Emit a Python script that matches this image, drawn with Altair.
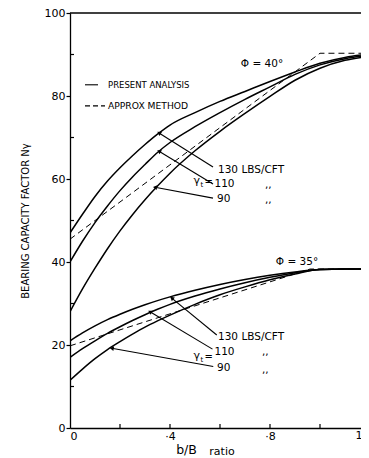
import math
import altair as alt
import pandas as pd

# ---------------- data ----------------
x_curve = [0, 0.05, 0.1, 0.15, 0.2, 0.25, 0.3, 0.35, 0.4, 0.5, 0.6, 0.7, 0.8, 0.9, 1.0, 1.1, 1.2]

phi40_130 = [47, 51.5, 55.8, 59.5, 62.7, 65.6, 68.3, 70.8, 73.0, 76.0, 78.7, 81.1, 83.5, 85.8, 87.9, 89.3, 90.1]
phi40_110 = [40, 45.0, 49.5, 53.5, 57.2, 60.5, 63.5, 66.4, 68.8, 72.6, 76.0, 79.2, 82.2, 85.2, 87.5, 89.0, 89.8]
phi40_90 = [28, 33.5, 38.5, 43.2, 47.5, 51.4, 55.0, 58.3, 61.4, 66.8, 71.5, 75.8, 79.9, 83.8, 86.7, 88.6, 89.6]

phi35_130 = [21, 22.9, 24.6, 26.1, 27.4, 28.6, 29.7, 30.7, 31.6, 33.2, 34.6, 35.8, 36.8, 37.6, 38.2, 38.3, 38.3]
phi35_110 = [17, 19.1, 21.0, 22.8, 24.4, 25.9, 27.3, 28.6, 29.8, 31.8, 33.5, 35.0, 36.3, 37.4, 38.2, 38.3, 38.3]
phi35_90 = [11.5, 14.2, 16.7, 18.9, 20.8, 22.6, 24.3, 25.8, 27.2, 29.8, 32.1, 34.0, 35.7, 37.1, 38.2, 38.3, 38.3]

approx40_x = [0, 1.0, 1.2]
approx40_y = [45.5, 90.3, 90.3]
approx35_x = [0, 0.96, 1.2]
approx35_y = [19.8, 38.3, 38.3]

x_tick_values = [0, 0.2, 0.4, 0.6, 0.8, 1.0]
y_major = [0, 20, 40, 60, 80, 100]
y_minor = [10, 30, 50, 70, 90]

# leader lines: (x_curve_end, y_curve_end, x_label_end, y_label_end)
leader_x1 = [0.356, 0.356, 0.340, 0.407, 0.320, 0.167]
leader_y1 = [71.1, 66.7, 58.0, 31.3, 28.0, 19.2]
leader_x2 = [0.572, 0.572, 0.572, 0.587, 0.570, 0.573]
leader_y2 = [62.9, 58.8, 55.4, 22.4, 19.0, 14.8]

# annotation texts
ann_text = ["130 LBS/CFT", "110", "90", ",,", ",,",
            "130 LBS/CFT", "110", "90", ",,", ",,"]
ann_x = [0.592, 0.578, 0.588, 0.78, 0.78,
         0.592, 0.578, 0.588, 0.768, 0.768]
ann_y = [62.2, 58.8, 55.2, 58.6, 55.0,
         21.9, 18.3, 14.5, 18.4, 14.0]

gamma_text = ["γ", "γ"]
gamma_x = [0.494, 0.494]
gamma_y = [59.5, 17.3]
sub_text = ["t", "t"]
sub_x = [0.522, 0.522]
sub_y = [58.5, 16.3]
eq_text = ["=", "="]
eq_x = [0.538, 0.538]
eq_y = [59.2, 17.0]

phi_text = ["Φ = 40°", "Φ = 35°"]
phi_x = [0.768, 0.908]
phi_y = [87.6, 39.9]

W, H = 291, 415
XDOM = [0, 1.164]
YDOM = [0, 100]
FONT = "DejaVu Sans"

# ---------------- frames ----------------
rows = []
for name, ys_ in [("40-130", phi40_130), ("40-110", phi40_110), ("40-90", phi40_90),
                  ("35-130", phi35_130), ("35-110", phi35_110), ("35-90", phi35_90)]:
    for xv, yv in zip(x_curve, ys_):
        rows.append({"x": xv, "y": yv, "series": name})
curves = pd.DataFrame(rows)

arows = []
for name, xs_, ys_ in [("a40", approx40_x, approx40_y), ("a35", approx35_x, approx35_y)]:
    for xv, yv in zip(xs_, ys_):
        arows.append({"x": xv, "y": yv, "series": name})
approx = pd.DataFrame(arows)

xs = alt.Scale(domain=XDOM, nice=False, zero=False)
ys = alt.Scale(domain=YDOM, nice=False, zero=False)

x_axis = alt.Axis(values=x_tick_values, ticks=False, grid=False,
                  labelExpr="datum.value == 0 ? '0' : (abs(datum.value - 0.4) < 0.01 ? '·4' : (abs(datum.value - 0.8) < 0.01 ? '·8' : ''))",
                  labelFontSize=11, labelFont=FONT, labelColor="black", labelPadding=2,
                  domainColor="black", domainWidth=1.3, title=None)
y_axis = alt.Axis(values=y_major, tickSize=4, tickColor="black", tickWidth=1.2, grid=False,
                  labelFontSize=11, labelFont=FONT, labelColor="black", labelPadding=1,
                  domainColor="black", domainWidth=1.3,
                  title="BEARING CAPACITY FACTOR Nγ", titleFont=FONT, titleFontSize=10,
                  titleFontWeight="normal", titleColor="black", titleX=-45, titleY=H / 2,
                  titleAngle=270, titleAlign="center", titleBaseline="middle")

base_lines = alt.Chart(curves).mark_line(color="black", strokeWidth=1.5, interpolate="monotone", clip=True).encode(
    x=alt.X("x:Q", scale=xs, axis=x_axis),
    y=alt.Y("y:Q", scale=ys, axis=y_axis),
    detail="series:N",
)

approx_lines = alt.Chart(approx).mark_line(color="black", strokeWidth=1.0, strokeDash=[6, 4], clip=True).encode(
    x=alt.X("x:Q", scale=xs, axis=None),
    y=alt.Y("y:Q", scale=ys, axis=None),
    detail="series:N",
)

lead_df = pd.DataFrame({"x": leader_x1, "y": leader_y1, "x2": leader_x2, "y2": leader_y2})
leaders = alt.Chart(lead_df).mark_rule(color="black", strokeWidth=1.1).encode(
    x=alt.X("x:Q", scale=xs, axis=None), y=alt.Y("y:Q", scale=ys, axis=None),
    x2="x2:Q", y2="y2:Q",
)

# arrow heads pointing from label end toward curve
px_per_x = W / (XDOM[1] - XDOM[0])
px_per_y = H / (YDOM[1] - YDOM[0])
angles = []
for a, b, c, d in zip(leader_x1, leader_y1, leader_x2, leader_y2):
    dx = (a - c) * px_per_x
    dy = -(b - d) * px_per_y
    ang = math.degrees(math.atan2(dx, -dy)) % 360
    angles.append(ang)
head_df = pd.DataFrame({"x": leader_x1, "y": leader_y1, "ang": angles})
heads = alt.Chart(head_df).mark_point(shape="triangle-up", filled=True, color="black", size=22, opacity=1).encode(
    x=alt.X("x:Q", scale=xs, axis=None), y=alt.Y("y:Q", scale=ys, axis=None),
    angle=alt.Angle("ang:Q", scale=None),
)

# inward x ticks
xt = alt.Chart(pd.DataFrame({"x": x_tick_values[1:]})).mark_rule(color="black", strokeWidth=1.2).encode(
    x=alt.X("x:Q", scale=xs, axis=None), y=alt.value(H), y2=alt.value(H - 4))
# inward minor y ticks
yt = alt.Chart(pd.DataFrame({"y": y_minor})).mark_rule(color="black", strokeWidth=1.2).encode(
    y=alt.Y("y:Q", scale=ys, axis=None), x=alt.value(0), x2=alt.value(4))
# top border
top = alt.Chart(pd.DataFrame({"y": [100]})).mark_rule(color="black", strokeWidth=1.3).encode(
    y=alt.Y("y:Q", scale=ys, axis=None), x=alt.value(0), x2=alt.value(W))

ann_df = pd.DataFrame({"x": ann_x, "y": ann_y, "t": ann_text})
ann = alt.Chart(ann_df).mark_text(align="left", baseline="middle", font=FONT, fontSize=10.5, color="black").encode(
    x=alt.X("x:Q", scale=xs, axis=None), y=alt.Y("y:Q", scale=ys, axis=None), text="t:N")

gam_df = pd.DataFrame({"x": gamma_x + sub_x + eq_x, "y": gamma_y + sub_y + eq_y,
                       "t": gamma_text + sub_text + eq_text,
                       "s": [11, 11, 7, 7, 10, 10]})
gam = alt.Chart(gam_df).mark_text(align="left", baseline="middle", font=FONT, color="black").encode(
    x=alt.X("x:Q", scale=xs, axis=None), y=alt.Y("y:Q", scale=ys, axis=None), text="t:N",
    size=alt.Size("s:Q", scale=None, legend=None))

phi_df = pd.DataFrame({"x": phi_x, "y": phi_y, "t": phi_text})
phi = alt.Chart(phi_df).mark_text(align="center", baseline="middle", font=FONT, fontSize=10.5, color="black").encode(
    x=alt.X("x:Q", scale=xs, axis=None), y=alt.Y("y:Q", scale=ys, axis=None), text="t:N")

# legend
leg_solid = alt.Chart(pd.DataFrame({"x": [0.06], "x2": [0.112], "y": [82.7]})).mark_rule(
    color="black", strokeWidth=1.1).encode(x=alt.X("x:Q", scale=xs, axis=None), x2="x2:Q",
                                           y=alt.Y("y:Q", scale=ys, axis=None))
leg_dash = alt.Chart(pd.DataFrame({"x": [0.06], "x2": [0.14], "y": [77.6]})).mark_rule(
    color="black", strokeWidth=1.2, strokeDash=[5, 3]).encode(x=alt.X("x:Q", scale=xs, axis=None), x2="x2:Q",
                                                            y=alt.Y("y:Q", scale=ys, axis=None))
leg_text = alt.Chart(pd.DataFrame({"x": [0.152, 0.152], "y": [82.7, 77.6],
                                   "t": ["PRESENT ANALYSIS", "APPROX METHOD"],
                                   "s": [8.5, 9.2]})).mark_text(
    align="left", baseline="middle", font=FONT, color="black").encode(
    x=alt.X("x:Q", scale=xs, axis=None), y=alt.Y("y:Q", scale=ys, axis=None), text="t:N",
    size=alt.Size("s:Q", scale=None, legend=None))

# x-axis title and cut label
xt_df = pd.DataFrame({"x": [0.466, 0.608, 1.156], "y": [-5.3, -5.7, -2.0],
                      "t": ["b/B", "ratio", "1"], "s": [12.5, 11, 11]})
xtitle = alt.Chart(xt_df).mark_text(align="center", baseline="middle", font=FONT, color="black").encode(
    x=alt.X("x:Q", scale=xs, axis=None), y=alt.Y("y:Q", scale=ys, axis=None), text="t:N",
    size=alt.Size("s:Q", scale=None, legend=None))

chart = alt.layer(
    base_lines, approx_lines, leaders, heads, xt, yt, top, ann, gam, phi,
    leg_solid, leg_dash, leg_text, xtitle
).resolve_axis(x="independent", y="independent").properties(
    width=W, height=H,
    autosize=alt.AutoSizeParams(type="none"),
    padding={"left": 62, "top": 5, "right": 0, "bottom": 30},
    background="white",
).configure_view(stroke=None)

chart.save("out.html", embed_options={"renderer": "svg", "actions": False})
